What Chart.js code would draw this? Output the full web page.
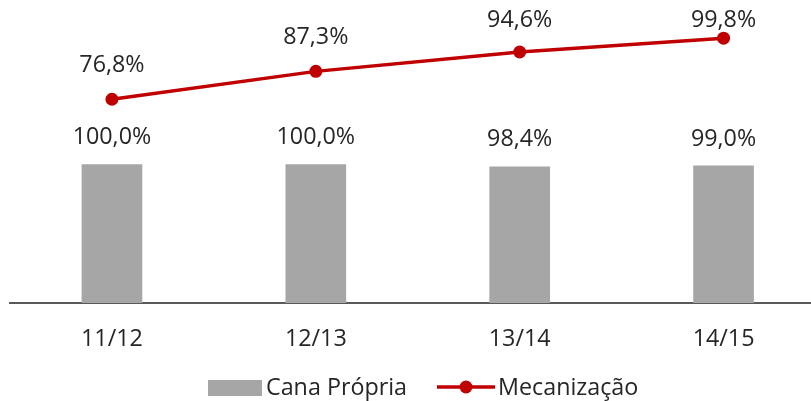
<!DOCTYPE html>
<html>
<head>
<meta charset="utf-8">
<script src="https://cdn.jsdelivr.net/npm/chart.js@4"></script>
<style>
  html, body { margin: 0; padding: 0; background: #ffffff; overflow: hidden; }
  #c { display: block; width: 832px; height: 401px; }
</style>
</head>
<body>
<canvas id="c" width="832" height="401"></canvas>
<script>
const categories = ['11/12', '12/13', '13/14', '14/15'];
const canaPropria = [100.0, 100.0, 98.4, 99.0];
const mecanizacao = [76.8, 87.3, 94.6, 99.8];
const seriesNames = ['Cana Própria', 'Mecanização'];

const FONT = '"Open Sans", "DejaVu Sans", sans-serif';
const TEXT = '#262626';
const GRAY = '#a6a6a6';
const RED = '#c00000';

const fmt = v => v.toFixed(1).replace('.', ',') + '%';

const labelPlugin = {
  id: 'valueLabels',
  afterDatasetsDraw(chart) {
    const ctx = chart.ctx;
    ctx.save();
    ctx.font = '23.3px ' + FONT;
    ctx.fillStyle = TEXT;
    ctx.textAlign = 'center';
    ctx.textBaseline = 'middle';
    chart.data.datasets.forEach((ds, i) => {
      const meta = chart.getDatasetMeta(i);
      const off = ds.type === 'line' ? 34 : 27;
      meta.data.forEach((el, j) => {
        const y = Math.max(el.y - off, 20);
        ctx.fillText(fmt(ds.data[j]), el.x, y);
      });
    });
    ctx.restore();
  }
};

const legendPlugin = {
  id: 'customLegend',
  afterDraw(chart) {
    const ctx = chart.ctx;
    const barDs = chart.data.datasets.find(d => d.type === 'bar');
    const lineDs = chart.data.datasets.find(d => d.type === 'line');
    ctx.save();
    ctx.font = '23.3px ' + FONT;
    ctx.textBaseline = 'middle';
    ctx.textAlign = 'left';
    const cy = 388;
    let x = 208;
    ctx.fillStyle = barDs.backgroundColor;
    ctx.fillRect(x, cy - 8, 54, 16);
    ctx.fillStyle = TEXT;
    ctx.fillText(barDs.label, x + 58, cy);
    x = 437;
    ctx.strokeStyle = lineDs.borderColor;
    ctx.lineWidth = 3.5;
    ctx.beginPath();
    ctx.moveTo(x, cy - 1);
    ctx.lineTo(x + 58, cy - 1);
    ctx.stroke();
    ctx.fillStyle = lineDs.borderColor;
    ctx.beginPath();
    ctx.arc(x + 29, cy - 1, 6.5, 0, Math.PI * 2);
    ctx.fill();
    ctx.fillStyle = TEXT;
    ctx.fillText(lineDs.label, x + 61, cy);
    ctx.restore();
  }
};

new Chart(document.getElementById('c'), {
  type: 'bar',
  data: {
    labels: categories,
    datasets: [
      {
        type: 'line',
        label: seriesNames[1],
        data: mecanizacao,
        yAxisID: 'y1',
        borderColor: RED,
        backgroundColor: RED,
        borderWidth: 3.5,
        pointRadius: 6.5,
        pointHoverRadius: 6.5,
        pointBackgroundColor: RED,
        pointBorderWidth: 0,
        tension: 0,
        order: 0
      },
      {
        type: 'bar',
        label: seriesNames[0],
        data: canaPropria,
        yAxisID: 'y',
        backgroundColor: GRAY,
        barThickness: 60,
        order: 1
      }
    ]
  },
  options: {
    responsive: false,
    animation: false,
    devicePixelRatio: 1,
    layout: { padding: { left: 10, right: 0, top: 26, bottom: 0 } },
    plugins: {
      legend: { display: false },
      tooltip: { enabled: false }
    },
    scales: {
      x: {
        offset: true,
        grid: { display: false, drawTicks: false },
        border: { display: true, color: '#595959', width: 2 },
        ticks: { color: TEXT, font: { family: FONT, size: 23.3 }, padding: 22 },
        afterFit(s) { s.height = 98; }
      },
      y: { display: false, min: 0, max: 200 },
      y1: { display: false, min: 0, max: 104.4, position: 'right' }
    }
  },
  plugins: [labelPlugin, legendPlugin]
});
</script>
</body>
</html>
